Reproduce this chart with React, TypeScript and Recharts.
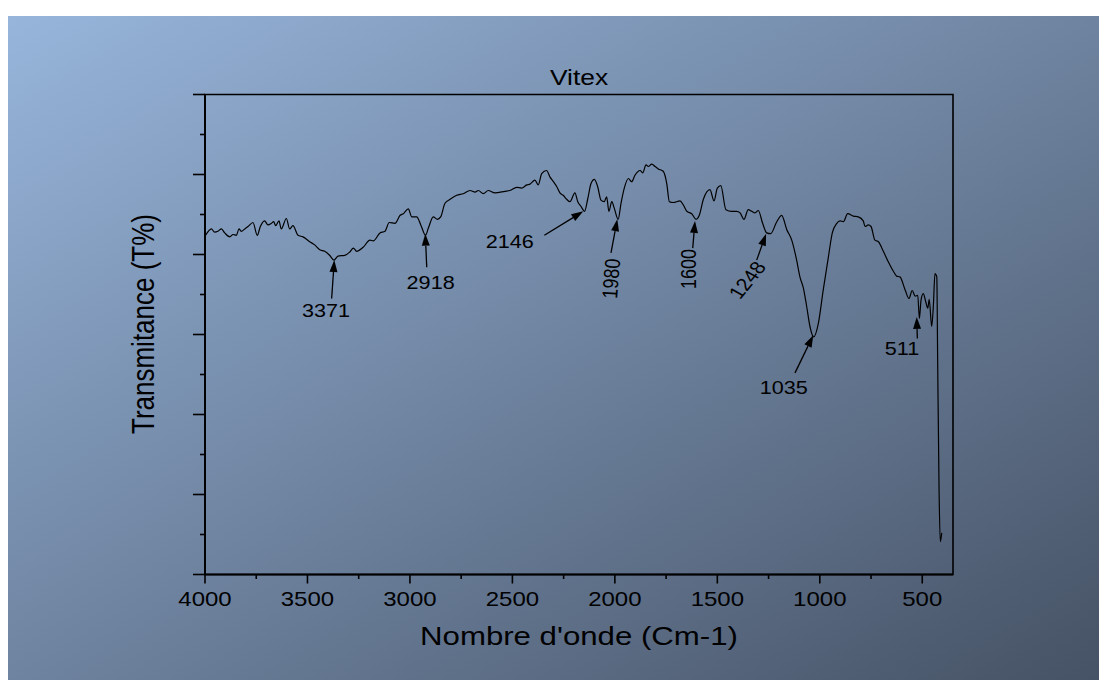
import React from "react";
import {
  LineChart,
  Line,
  XAxis,
  YAxis,
  ReferenceArea,
  ReferenceLine,
  ReferenceDot,
} from "recharts";

// FTIR spectrum (wavenumber in cm-1, transmittance in arbitrary %)
const wavenumbers = [
  3997, 3969, 3953, 3937, 3920, 3904, 3879, 3863, 3847, 3834,
  3823, 3806, 3790, 3766, 3745, 3730, 3709, 3693, 3676, 3665,
  3655, 3639, 3628, 3603, 3587, 3571, 3546, 3522, 3489, 3465,
  3440, 3416, 3392, 3371, 3351, 3318, 3294, 3276, 3260, 3228,
  3195, 3179, 3146, 3122, 3101, 3073, 3048, 3032, 3008, 2991,
  2967, 2947, 2924, 2910, 2886, 2866, 2850, 2829, 2804, 2772,
  2740, 2707, 2682, 2666, 2642, 2618, 2585, 2536, 2512, 2479,
  2455, 2430, 2414, 2390, 2374, 2357, 2333, 2317, 2300, 2284,
  2268, 2252, 2235, 2219, 2195, 2181, 2165, 2148, 2132, 2116,
  2100, 2084, 2068, 2052, 2040, 2029, 2015, 2003, 1984, 1970,
  1954, 1934, 1918, 1902, 1877, 1864, 1848, 1837, 1820, 1804,
  1788, 1764, 1747, 1734, 1715, 1682, 1666, 1649, 1625, 1604,
  1588, 1568, 1536, 1516, 1500, 1483, 1458, 1430, 1405, 1389,
  1370, 1349, 1332, 1316, 1300, 1279, 1259, 1240, 1210, 1186,
  1161, 1137, 1113, 1097, 1080, 1064, 1048, 1030, 1007, 983,
  958, 939, 917, 901, 885, 864, 836, 812, 788, 779,
  763, 750, 731, 714, 690, 666, 641, 625, 609, 584,
  565, 549, 535, 522, 514, 506, 495, 483, 473, 466,
  454, 446, 438, 429, 425, 418, 412, 405,
];

const transmittance = [
  42.4, 43.2, 42.8, 42.9, 43.2, 42.7, 42.2, 42.5, 42.4, 43.2,
  42.9, 43.2, 43.5, 44.0, 42.4, 43.5, 44.2, 43.7, 43.9, 44.1,
  43.6, 44.2, 43.2, 44.5, 43.2, 43.6, 42.4, 42.2, 41.6, 41.2,
  40.6, 40.4, 39.9, 39.3, 39.8, 39.9, 40.3, 40.8, 40.4, 40.9,
  41.8, 41.7, 42.7, 42.9, 44.0, 43.9, 44.9, 45.1, 45.7, 44.7,
  44.7, 43.7, 42.4, 43.3, 44.7, 44.4, 44.7, 46.4, 46.9, 47.4,
  47.6, 48.0, 47.8, 48.0, 47.6, 48.0, 47.7, 47.9, 48.0, 48.4,
  48.3, 48.7, 48.8, 49.3, 48.7, 50.1, 50.5, 49.7, 49.1, 48.5,
  47.7, 47.4, 46.9, 46.6, 47.7, 46.6, 46.0, 45.4, 47.0, 48.9,
  49.4, 48.5, 46.8, 46.6, 47.2, 45.4, 46.6, 45.8, 44.4, 46.4,
  48.3, 49.5, 49.1, 49.9, 50.5, 50.2, 51.2, 51.0, 51.3, 51.0,
  50.7, 50.4, 48.9, 46.6, 46.5, 46.7, 46.2, 45.4, 45.1, 44.4,
  44.9, 46.9, 48.1, 46.7, 48.3, 48.6, 45.6, 45.4, 45.4, 45.2,
  44.4, 45.6, 45.4, 45.2, 45.5, 43.9, 42.7, 42.6, 44.1, 44.9,
  43.1, 41.8, 39.3, 37.2, 35.8, 33.5, 31.0, 29.7, 31.4, 35.6,
  39.7, 42.7, 43.9, 44.2, 44.1, 45.1, 44.8, 44.7, 44.2, 43.5,
  43.7, 43.5, 41.8, 41.6, 40.4, 39.1, 37.9, 37.3, 37.2, 35.6,
  34.5, 35.5, 34.8, 34.9, 32.0, 34.3, 35.1, 34.1, 33.3, 34.4,
  31.0, 33.5, 37.6, 37.2, 27.2, 10.6, 4.1, 5.2,
];

const xTicks = [
  4000, 3750, 3500, 3250, 3000, 2750, 2500, 2250, 2000, 1750, 1500, 1250, 1000, 750, 500,
];
const yTicks = [0, 5, 10, 15, 20, 25, 30, 35, 40, 45, 50, 55, 60];

// peak annotations: arrow tip, arrow tail and label centre, in data units
const peakLabels = ["3371", "2918", "2146", "1980", "1600", "1248", "1035", "511"];
const peakTips = [[3369, 39.3], [2925, 42.6], [2154, 45.4], [1988, 44.4], [1609, 44.2], [1262, 42.6], [1032, 29.9], [527, 32.2]];
const peakTails = [[3382, 34.5], [2918, 38.4], [2344, 42.4], [2019, 40.2], [1620, 40.8], [1308, 39.3], [1121, 25.2], [524, 29.5]];
const peakText = [[3409, 33.0], [2899, 36.5], [2513, 41.6], [2019, 37.0], [1642, 38.2], [1354, 36.8], [1176, 23.4], [599, 28.2]];
const labelAngle: Record<string, number> = { "1980": -86, "1600": -90, "1248": -56 };

const data = wavenumbers.map((w, i) => ({ w, t: transmittance[i] }));

const FONT = "'Liberation Sans', Arial, Helvetica, sans-serif";

const XTick = (props: any) => {
  const { x, y, payload } = props;
  const major = payload.value % 500 === 0;
  return (
    <g>
      <line x1={x} y1={y} x2={x} y2={y + (major ? 9 : 4.5)} stroke="#000" strokeWidth={1.6} />
      {major && (
        <text
          transform={`translate(${x},${y + 31.5}) scale(1.2,1)`}
          textAnchor="middle"
          fontSize={20}
          fontFamily={FONT}
          fill="#000"
        >
          {payload.value}
        </text>
      )}
    </g>
  );
};

const YTick = (props: any) => {
  const { x, y, payload } = props;
  const major = payload.value % 10 === 0;
  return <line x1={x - (major ? 12 : 5)} y1={y} x2={x} y2={y} stroke="#000" strokeWidth={1.6} />;
};

const Arrow = (props: any) => {
  const { x1, y1, x2, y2 } = props;
  const dx = x2 - x1;
  const dy = y2 - y1;
  const len = Math.hypot(dx, dy) || 1;
  const ux = dx / len;
  const uy = dy / len;
  const hl = 12;
  const hw = 4;
  const bx = x2 - ux * hl;
  const by = y2 - uy * hl;
  return (
    <g>
      <line x1={x1} y1={y1} x2={bx} y2={by} stroke="#000" strokeWidth={1.3} />
      <polygon
        points={`${x2},${y2} ${bx - uy * hw},${by + ux * hw} ${bx + uy * hw},${by - ux * hw}`}
        fill="#000"
      />
    </g>
  );
};

export default function App() {
  return (
    <div
      style={{
        position: "fixed",
        left: 8,
        top: 16,
        width: 1091,
        height: 664,
        background: "linear-gradient(to bottom right, #97b5db, #465265)",
      }}
    >
      <LineChart
        width={1091}
        height={664}
        data={data}
        margin={{ top: 78.5, right: 146, bottom: 45.5, left: 137 }}
      >
        <XAxis
          dataKey="w"
          type="number"
          domain={[350, 4000]}
          reversed
          allowDataOverflow
          ticks={xTicks}
          interval={0}
          height={60}
          tickSize={0}
          tickMargin={0}
          tickLine={false}
          tick={(p: any) => <XTick {...p} />}
          axisLine={{ stroke: "#000", strokeWidth: 2 }}
        />
        <YAxis
          type="number"
          domain={[0, 60]}
          allowDataOverflow
          ticks={yTicks}
          interval={0}
          width={60}
          tickSize={0}
          tickMargin={0}
          tickLine={false}
          tick={(p: any) => <YTick {...p} />}
          axisLine={{ stroke: "#000", strokeWidth: 2 }}
        />
        <ReferenceArea
          x1={350}
          x2={4000}
          y1={0}
          y2={60}
          fill="none"
          stroke="#000"
          strokeWidth={1.6}
        />
        <Line
          dataKey="t"
          type="monotone"
          stroke="#000"
          strokeWidth={1.2}
          dot={false}
          activeDot={false}
          isAnimationActive={false}
        />
        {peakLabels.map((label, i) => (
          <ReferenceLine
            key={"a" + label}
            segment={[
              { x: peakTails[i][0], y: peakTails[i][1] },
              { x: peakTips[i][0], y: peakTips[i][1] },
            ]}
            shape={(p: any) => <Arrow {...p} />}
          />
        ))}
        {peakLabels.map((label, i) => (
          <ReferenceDot
            key={"t" + label}
            x={peakText[i][0]}
            y={peakText[i][1]}
            r={0}
            shape={(p: any) => (
              <text
                transform={`translate(${p.cx},${p.cy}) scale(1.2,1) rotate(${labelAngle[label] || 0})`}
                textAnchor="middle"
                dominantBaseline="central"
                fontSize={18}
                fontFamily={FONT}
                fill="#000"
              >
                {label}
              </text>
            )}
          />
        ))}
      </LineChart>
      <svg
        width={1091}
        height={664}
        style={{ position: "absolute", left: 0, top: 0, pointerEvents: "none" }}
      >
        <text
          transform="translate(571,69) scale(1.2,1)"
          textAnchor="middle"
          fontSize={22}
          fontFamily={FONT}
          fill="#000"
        >
          Vitex
        </text>
        <text
          transform="translate(571,629) scale(1.2,1)"
          textAnchor="middle"
          fontSize={26}
          fontFamily={FONT}
          fill="#000"
        >
          Nombre d'onde (Cm-1)
        </text>
        <text
          transform="translate(146,308) scale(1.2,1) rotate(-90)"
          textAnchor="middle"
          fontSize={26}
          fontFamily={FONT}
          fill="#000"
        >
          Transmitance (T%)
        </text>
      </svg>
    </div>
  );
}
